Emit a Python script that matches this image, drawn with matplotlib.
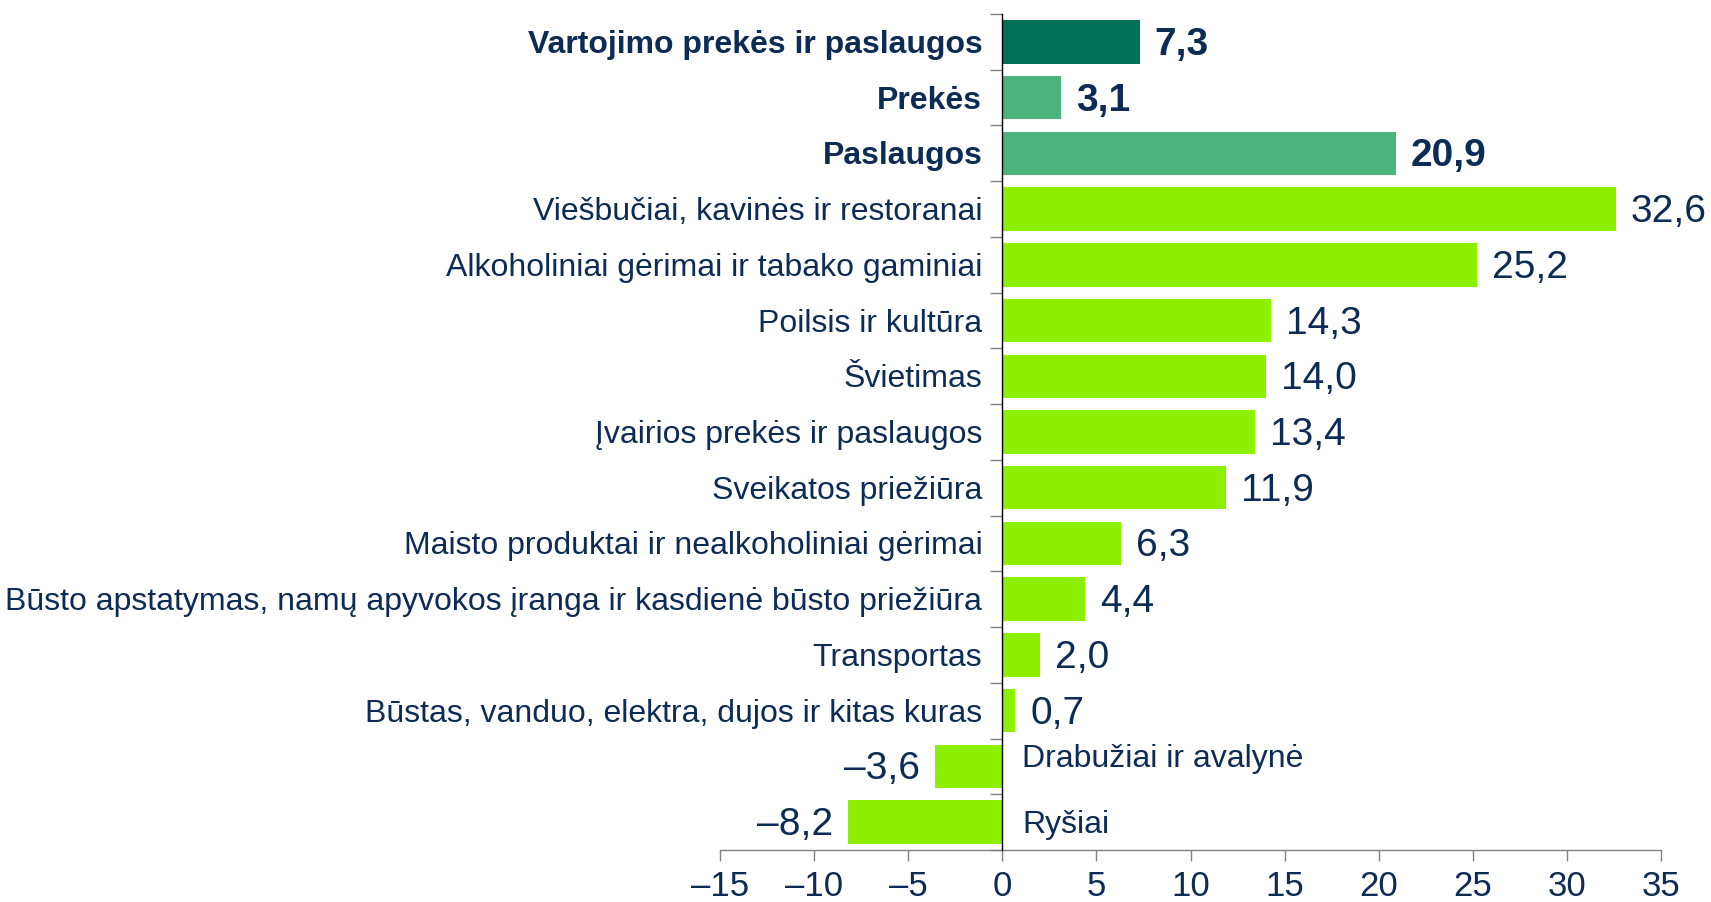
import matplotlib.pyplot as plt
import numpy as np
from matplotlib.ticker import FuncFormatter

plt.rcParams['font.family'] = ['Liberation Sans', 'DejaVu Sans']

# duomenys
categories = [
    "Vartojimo prekės ir paslaugos",
    "Prekės",
    "Paslaugos",
    "Viešbučiai, kavinės ir restoranai",
    "Alkoholiniai gėrimai ir tabako gaminiai",
    "Poilsis ir kultūra",
    "Švietimas",
    "Įvairios prekės ir paslaugos",
    "Sveikatos priežiūra",
    "Maisto produktai ir nealkoholiniai gėrimai",
    "Būsto apstatymas, namų apyvokos įranga ir kasdienė būsto priežiūra",
    "Transportas",
    "Būstas, vanduo, elektra, dujos ir kitas kuras",
    "Drabužiai ir avalynė",
    "Ryšiai",
]
values = [7.3, 3.1, 20.9, 32.6, 25.2, 14.3, 14.0, 13.4, 11.9, 6.3, 4.4, 2.0, 0.7, -3.6, -8.2]
bold_rows = [0, 1, 2]

text_col = '#0c2c55'
colors = ['#007155', '#4db37c', '#4db37c'] + ['#8cf000'] * (len(values) - 3)


def fmt(v):
    s = f"{abs(v):.1f}".replace('.', ',')
    return ('\u2013' + s) if v < 0 else s


fig = plt.figure(figsize=(17.11, 9.03), dpi=100)
ax = fig.add_axes([0.4208, 0.0576, 0.55, 0.9258])

y = np.arange(len(values))
ax.barh(y, values, height=0.78, color=colors, zorder=2)

ax.set_ylim(len(values) - 0.5, -0.5)
ax.set_xlim(-15, 35)
ax.set_xticks(np.arange(-15, 36, 5))
ax.xaxis.set_major_formatter(FuncFormatter(lambda v, p: fmt(v).replace(',0', '')))

ax.set_yticks(np.arange(len(values) + 1) - 0.5)
ax.set_yticklabels([])

ax.spines['top'].set_visible(False)
ax.spines['right'].set_visible(False)
ax.spines['left'].set_position(('data', 0))
ax.spines['left'].set_color('#000000')
ax.spines['left'].set_linewidth(1.0)
ax.spines['left'].set_zorder(3)
ax.spines['bottom'].set_color('#808080')
ax.spines['bottom'].set_linewidth(1.0)

ax.tick_params(axis='x', direction='out', length=8, width=1, color='#808080',
               labelsize=25, labelcolor=text_col, pad=6)
ax.tick_params(axis='y', direction='out', length=9, width=1, color='#808080')

# tekstai
for i, (cat, v) in enumerate(zip(categories, values)):
    w = 'bold' if i in bold_rows else 'normal'
    dy = 8 if cat == "Drabužiai ir avalynė" else -2
    if v >= 0:
        ax.annotate(cat, (0, i), xytext=(-20, dy), textcoords='offset pixels',
                    ha='right', va='center', fontsize=23, color=text_col, fontweight=w)
        ax.annotate(fmt(v), (v, i), xytext=(15, -2), textcoords='offset pixels',
                    ha='left', va='center', fontsize=28, color=text_col, fontweight=w)
    else:
        ax.annotate(cat, (0, i), xytext=(20, dy), textcoords='offset pixels',
                    ha='left', va='center', fontsize=23, color=text_col, fontweight=w)
        ax.annotate(fmt(v), (v, i), xytext=(-15, -2), textcoords='offset pixels',
                    ha='right', va='center', fontsize=28, color=text_col, fontweight=w)

fig.savefig('out.png', dpi=100)
